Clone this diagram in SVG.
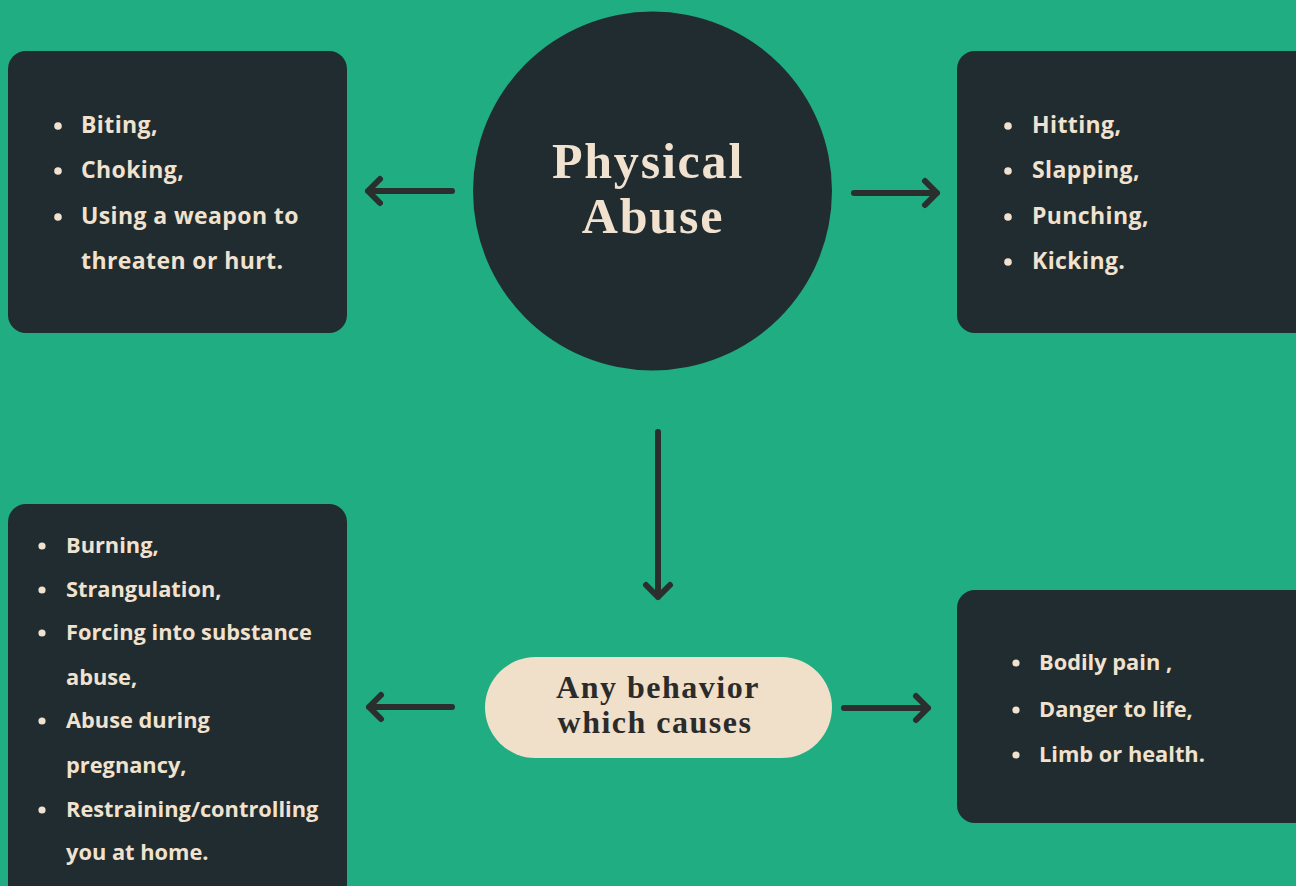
<svg xmlns="http://www.w3.org/2000/svg" width="1296" height="886" viewBox="0 0 1296 886">
<style>
.box{fill:#202c30}
.item{font-family:"Open Sans","Liberation Sans",sans-serif;font-weight:bold;font-size:21.8px;fill:#f1e2cf}
.big{font-size:23px;letter-spacing:0.4px}
.dot{fill:#f1e2cf}
.title{font-family:"Liberation Serif",serif;font-weight:bold;fill:#f1e2cf;text-anchor:middle}
.ptext{font-family:"Liberation Serif",serif;font-weight:bold;fill:#2b2b2b;text-anchor:middle}
.conn{stroke:#2a2f2e;stroke-width:6;stroke-linecap:round;stroke-linejoin:round;fill:none}
</style>
<rect width="1296" height="886" fill="#1fad81"/>
<g id="center">
<circle cx="652.5" cy="191" r="179.5" class="box"/>
<text class="title" font-size="50" x="648" y="178" letter-spacing="1.8">Physical</text>
<text class="title" font-size="50" x="653" y="233" letter-spacing="1.8">Abuse</text>
</g>
<g id="top-left">
<rect x="8" y="51" width="339" height="282" rx="18" class="box"/>
<circle cx="58" cy="126" r="3.8" class="dot"/>
<circle cx="58" cy="171" r="3.8" class="dot"/>
<circle cx="58" cy="217" r="3.8" class="dot"/>
<text class="item big" x="81" y="133">Biting,</text>
<text class="item big" x="81" y="178">Choking,</text>
<text class="item big" x="81" y="224">Using a weapon to</text>
<text class="item big" x="81" y="269">threaten or hurt.</text>
</g>
<g id="top-right">
<rect x="957" y="51" width="359" height="282" rx="18" class="box"/>
<circle cx="1008" cy="126" r="3.8" class="dot"/>
<circle cx="1008" cy="171" r="3.8" class="dot"/>
<circle cx="1008" cy="217" r="3.8" class="dot"/>
<circle cx="1008" cy="262" r="3.8" class="dot"/>
<text class="item big" x="1032" y="133">Hitting,</text>
<text class="item big" x="1032" y="178">Slapping,</text>
<text class="item big" x="1032" y="224">Punching,</text>
<text class="item big" x="1032" y="269">Kicking.</text>
</g>
<g id="behavior">
<rect x="485" y="657" width="347" height="101" rx="50.5" fill="#f0dfc9"/>
<text class="ptext" font-size="32" x="658" y="698" letter-spacing="1.5">Any behavior</text>
<text class="ptext" font-size="32" x="655" y="733" letter-spacing="1.5">which causes</text>
</g>
<g id="bottom-left">
<rect x="8" y="504" width="339" height="400" rx="18" class="box"/>
<circle cx="42" cy="546" r="3.6" class="dot"/>
<circle cx="42" cy="590" r="3.6" class="dot"/>
<circle cx="42" cy="633" r="3.6" class="dot"/>
<circle cx="42" cy="721" r="3.6" class="dot"/>
<circle cx="42" cy="810" r="3.6" class="dot"/>
<text class="item" x="66" y="553">Burning,</text>
<text class="item" x="66" y="597">Strangulation,</text>
<text class="item" x="66" y="640">Forcing into substance</text>
<text class="item" x="66" y="685">abuse,</text>
<text class="item" x="66" y="728">Abuse during</text>
<text class="item" x="66" y="773">pregnancy,</text>
<text class="item" x="66" y="817">Restraining/controlling</text>
<text class="item" x="66" y="860">you at home.</text>
</g>
<g id="bottom-right">
<rect x="957" y="590" width="359" height="233" rx="18" class="box"/>
<circle cx="1016" cy="663" r="3.6" class="dot"/>
<circle cx="1016" cy="710" r="3.6" class="dot"/>
<circle cx="1016" cy="755" r="3.6" class="dot"/>
<text class="item" x="1039" y="670">Bodily pain ,</text>
<text class="item" x="1039" y="717">Danger to life,</text>
<text class="item" x="1039" y="762">Limb or health.</text>
</g>
<g id="connectors">
<path class="conn" d="M452 191 H368 M380 179 L368 191 L380 203"/>
<path class="conn" d="M854 193 H937 M925 181 L937 193 L925 205"/>
<path class="conn" d="M658 432 V597 M646 585 L658 597 L670 585"/>
<path class="conn" d="M452 707 H369 M381 695 L369 707 L381 719"/>
<path class="conn" d="M844 708 H928 M916 696 L928 708 L916 720"/>
</g>
</svg>
